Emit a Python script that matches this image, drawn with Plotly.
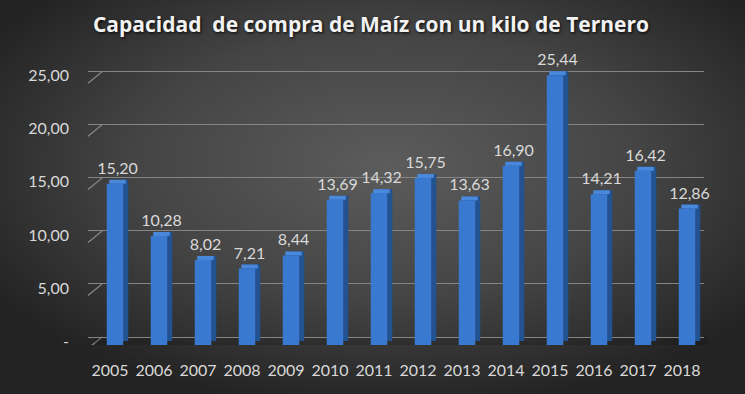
import base64
import plotly.graph_objects as go

# ---- data ----
years = ["2005", "2006", "2007", "2008", "2009", "2010", "2011",
         "2012", "2013", "2014", "2015", "2016", "2017", "2018"]
values = [15.20, 10.28, 8.02, 7.21, 8.44, 13.69, 14.32,
          15.75, 13.63, 16.90, 25.44, 14.21, 16.42, 12.86]
tick_vals = [0, 5, 10, 15, 20, 25]
tick_text = ["-", "5,00", "10,00", "15,00", "20,00", "25,00"]
title_text = "Capacidad  de compra de Maíz con un kilo de Ternero"

labels = [f"{v:.2f}".replace(".", ",") for v in values]

# ---- geometry / style ----
W, H = 745, 394
ML, MR, MT, MB = 88, 27, 48, 49
plot_w = W - ML - MR            # 630
bar_area = 616                  # width of bar axis domain (px)
ymax = 28.0
px_per_unit = (H - MT - MB) / ymax
cat_px = bar_area / len(years)
dx_units = 5 / cat_px           # 3D depth horizontally (category units)
dy_units = 4 / px_per_unit      # 3D depth vertically (value units)
back_dy = 8 / px_per_unit       # back wall offset
front_dy = 3.5 / px_per_unit    # front edge (labels) offset
bw = 0.375
front_off = -bw / 2 + 5 / cat_px

FRONT = "#3a79d0"
TOP = "#4a88dc"
SIDE = "#22528f"
FONT = "Lato"
TXT = "#d9d9d9"
GRID = "#858585"

fig = go.Figure()

# side face (darker, shifted right and up)
fig.add_trace(go.Bar(
    x=years, y=values, base=[dy_units] * len(values), width=bw,
    offset=front_off + dx_units, marker=dict(color=SIDE, line=dict(width=0)),
    hoverinfo="skip", showlegend=False))
# top face
fig.add_trace(go.Bar(
    x=years, y=[dy_units] * len(values), base=values, width=bw,
    offset=front_off + dx_units / 2, marker=dict(color=TOP, line=dict(width=0)),
    text=labels, textposition="outside", constraintext="none", cliponaxis=False,
    textfont=dict(family=FONT, size=16, color=TXT),
    hoverinfo="skip", showlegend=False))
# front face
fig.add_trace(go.Bar(
    x=years, y=values, width=bw, offset=front_off,
    marker=dict(color=FRONT, line=dict(width=0)),
    hoverinfo="skip", showlegend=False))
# invisible trace for the back-wall grid axes
fig.add_trace(go.Scatter(x=[0], y=[0], xaxis="x2", yaxis="y2", mode="markers",
                         marker=dict(opacity=0), hoverinfo="skip", showlegend=False))

back_start = 14 / plot_w

# front diagonals of the 3D gridlines
for v in tick_vals:
    fig.add_shape(type="line", xref="paper", yref="y",
                  x0=0, x1=back_start, y0=v - front_dy, y1=v + back_dy,
                  line=dict(color=GRID, width=1.3), layer="below")
# floor shadow
fig.add_shape(type="rect", xref="paper", yref="y", x0=back_start / 2, x1=0.985,
              y0=-front_dy / 2, y1=back_dy, fillcolor="rgba(0,0,0,0.14)",
              line=dict(width=0), layer="below")

# background radial gradient
svg = f'''<svg xmlns="http://www.w3.org/2000/svg" width="{W}" height="{H}">
<defs><radialGradient id="g" cx="52%" cy="42%" r="62%">
<stop offset="0" stop-color="#5c5c5c"/><stop offset="0.55" stop-color="#444444"/>
<stop offset="1" stop-color="#232323"/></radialGradient></defs>
<rect width="{W}" height="{H}" fill="url(#g)"/></svg>'''
src = "data:image/svg+xml;base64," + base64.b64encode(svg.encode()).decode()

fig.update_layout(
    width=W, height=H,
    margin=dict(l=ML, r=MR, t=MT, b=MB),
    paper_bgcolor="#2a2a2a", plot_bgcolor="rgba(0,0,0,0)",
    barmode="overlay",
    images=[dict(source=src, xref="paper", yref="paper",
                 x=-ML / plot_w, y=1 + MT / (H - MT - MB),
                 sizex=W / plot_w, sizey=H / (H - MT - MB),
                 xanchor="left", yanchor="top", sizing="stretch", layer="below")],
    title=dict(text=title_text, x=371 / W, xanchor="center",
               y=1 - 24.5 / H, yanchor="middle",
               font=dict(family="Open Sans", size=21, color="#f2f2f2", weight="bold",
                         shadow="1px 1px 3px rgba(0,0,0,0.9)")),
    xaxis=dict(domain=[0, bar_area / plot_w], type="category",
               range=[-0.5, len(years) - 0.5],
               showgrid=False, zeroline=False, showline=False, ticks="",
               tickfont=dict(family=FONT, size=16, color=TXT),
               ticklabelstandoff=14),
    yaxis=dict(range=[0, ymax], showgrid=False, zeroline=False, showline=False,
               tickvals=tick_vals, ticktext=tick_text, ticks="",
               tickfont=dict(family=FONT, size=16, color=TXT),
               ticklabelstandoff=18, ticklabelshift=-4),
    xaxis2=dict(domain=[back_start, 1], anchor="y2", overlaying="x",
                visible=False, range=[0, 1]),
    yaxis2=dict(anchor="x2", overlaying="y", range=[-back_dy, ymax - back_dy],
                tickvals=tick_vals, showticklabels=False, ticks="",
                showgrid=True, gridcolor=GRID, gridwidth=1.3,
                zeroline=False, showline=False),
    font=dict(family=FONT, color=TXT),
    hovermode=False,
)

fig.write_html("out.html", config={"displayModeBar": False},
               post_script="document.body.style.margin='0';"
                           "document.body.style.background='#2a2a2a';")
